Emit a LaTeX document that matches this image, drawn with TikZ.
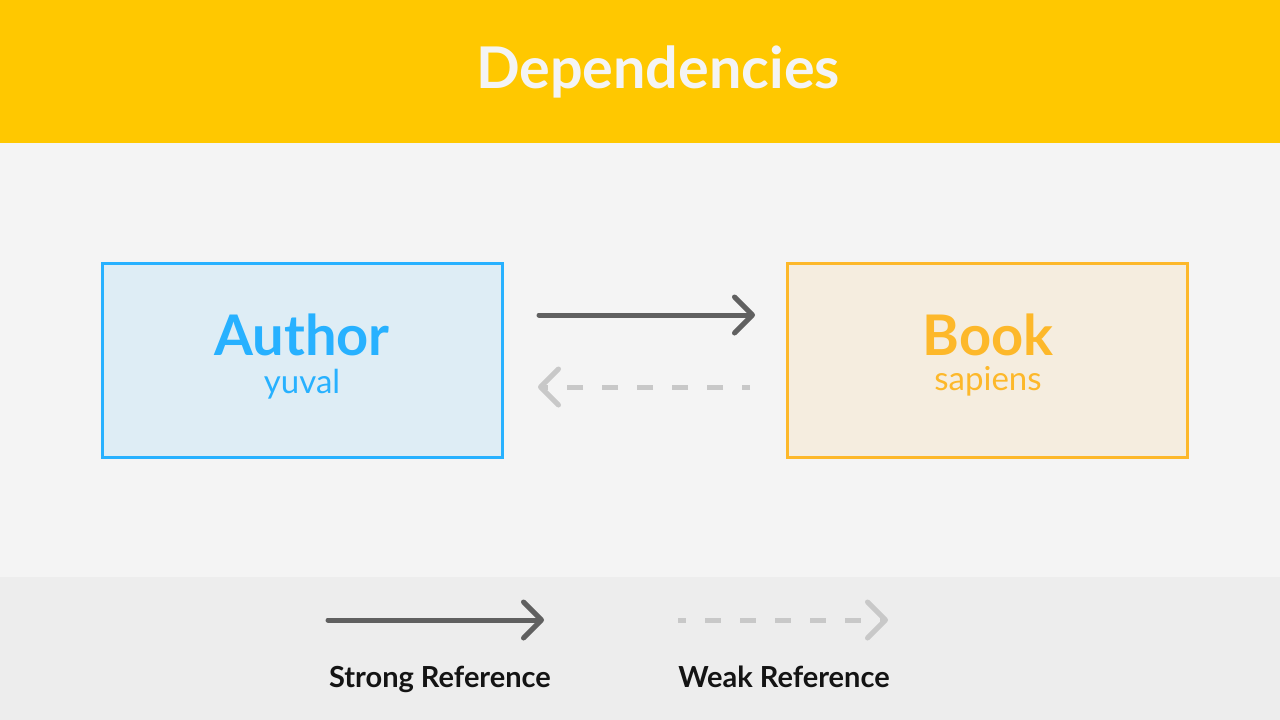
\documentclass[tikz,border=0pt]{standalone}
\usepackage{fontspec}
\setmainfont{Lato}
\usetikzlibrary{arrows.meta}
\definecolor{hdr}{HTML}{FFC800}
\definecolor{midbg}{HTML}{F4F4F4}
\definecolor{botbg}{HTML}{EDEDED}
\definecolor{blueline}{HTML}{27B1FF}
\definecolor{bluefill}{HTML}{DEEDF5}
\definecolor{yelline}{HTML}{FDB82A}
\definecolor{yelfill}{HTML}{F5EDDF}
\definecolor{strongc}{HTML}{606060}
\definecolor{weakc}{HTML}{C8C8C8}
\definecolor{txt}{HTML}{141414}
\tikzset{
  entity/.style={draw=#1line, fill=#1fill, line width=3pt, minimum width=400pt, minimum height=194pt, inner sep=0pt},
  strongarr/.style={draw=strongc, line width=5pt, line cap=round, -{Straight Barb[length=18pt,width=36pt,round]}},
  weakarr/.style={draw=weakc, line width=5pt, dash pattern=on 16pt off 19pt, -{Straight Barb[length=18pt,width=36pt,round]}},
  legendtxt/.style={text=txt, font=\bfseries\fontsize{29}{34}\selectfont, anchor=base},
}
\begin{document}
\begin{tikzpicture}[x=1pt,y=-1pt]
\useasboundingbox (0,0) rectangle (1280,720);
\fill[hdr] (0,0) rectangle (1280,143);
\fill[midbg] (0,143) rectangle (1280,577);
\fill[botbg] (0,577) rectangle (1280,720);
\node[anchor=base, text=midbg, font=\bfseries\fontsize{57.5}{62}\selectfont] (title) at (658,88) {Dependencies};

\node[entity=blue] (author) at (302,360) {};
\node[entity=yel] (book) at (987.5,360) {};
\node[anchor=base, text=blueline, font=\bfseries\fontsize{56}{60}\selectfont] (authorname) at (302,355) {Author};
\node[anchor=base, text=blueline, font=\fontsize{33}{38}\selectfont] (authorval) at (302,393) {yuval};
\node[anchor=base, text=yelline, font=\bfseries\fontsize{56}{60}\selectfont] (bookname) at (988,355) {Book};
\node[anchor=base, text=yelline, font=\fontsize{33}{38}\selectfont] (bookval) at (988,390) {sapiens};

\coordinate (s1) at (539,315);
\coordinate (s2) at (755,315);
\draw[strongarr] (s1) -- (s2);
\coordinate (w1) at (750,387);
\coordinate (w2) at (538,387);
\draw[weakarr, dash phase=8pt] (w1) -- (w2);

\coordinate (ls1) at (328,620);
\coordinate (ls2) at (544,620);
\draw[strongarr] (ls1) -- (ls2);
\coordinate (lw1) at (678,620);
\coordinate (lw2) at (888,620);
\draw[weakarr, dash phase=8pt] (lw1) -- (lw2);

\node[legendtxt] (strongtxt) at (440,687) {Strong Reference};
\node[legendtxt] (weaktxt) at (784,687) {Weak Reference};
\end{tikzpicture}
\end{document}
